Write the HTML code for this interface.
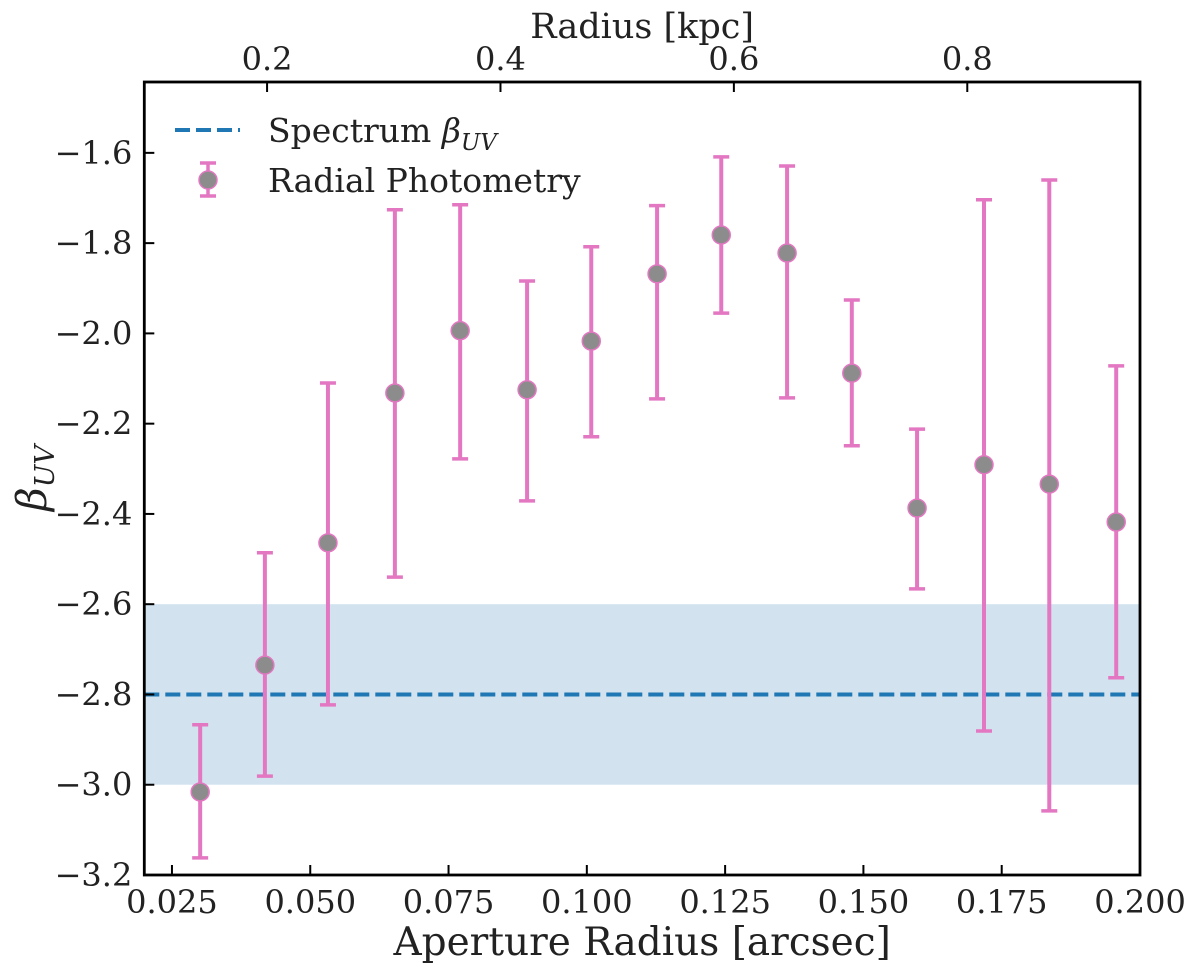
<!DOCTYPE html>
<html><head><meta charset="utf-8"><style>
html,body{margin:0;padding:0;background:#fff;}
svg text{font-family:"DejaVu Serif","Liberation Serif",serif;fill:#222;}
</style></head><body>
<svg id="chart" width="1200" height="973" xmlns="http://www.w3.org/2000/svg"></svg>
<script>
const xVals=[0.0301,0.0418,0.0532,0.0653,0.0771,0.0892,0.1008,0.1127,0.1243,0.1362,0.1479,0.1597,0.1718,0.1836,0.1957];
const yVals=[-3.016,-2.735,-2.464,-2.132,-1.994,-2.125,-2.017,-1.868,-1.782,-1.822,-2.088,-2.387,-2.291,-2.334,-2.418];
const yHi=[-2.867,-2.486,-2.110,-1.726,-1.715,-1.884,-1.808,-1.717,-1.609,-1.629,-1.926,-2.212,-1.704,-1.660,-2.072];
const yLo=[-3.162,-2.981,-2.823,-2.540,-2.278,-2.371,-2.229,-2.145,-1.955,-2.143,-2.249,-2.566,-2.881,-3.058,-2.763];
const xTicks=[0.025,0.05,0.075,0.1,0.125,0.15,0.175,0.2];
const xTickLabels=["0.025","0.050","0.075","0.100","0.125","0.150","0.175","0.200"];
const yTicks=[-3.2,-3.0,-2.8,-2.6,-2.4,-2.2,-2.0,-1.8,-1.6];
const topTicks=[0.2,0.4,0.6,0.8];
const spectrumBeta=-2.8, bandLo=-3.0, bandHi=-2.6;
const kpcPerArcsec=4.74;

const L=144.3,R=1140,T=82,B=875;
const X0=0.02,X1=0.2,Y0=-3.2,Y1=-1.443;
const sx=v=>L+(v-X0)/(X1-X0)*(R-L);
const sy=v=>B-(v-Y0)/(Y1-Y0)*(B-T);
const svg=document.getElementById('chart');
const NS='http://www.w3.org/2000/svg';
function mk(tag,attrs,parent){const e=document.createElementNS(NS,tag);for(const k in attrs)e.setAttribute(k,attrs[k]);(parent||svg).appendChild(e);return e;}

let e=mk('rect',{x:L,y:sy(bandHi),width:R-L,height:sy(bandLo)-sy(bandHi),fill:'#d2e3ef'});


e=mk('line',{x1:L,x2:R,y1:sy(spectrumBeta),y2:sy(spectrumBeta),stroke:'#1f77b4','stroke-width':4,'stroke-dasharray':'15,6'});



for(let i=0;i<xVals.length;i++){
  const g=mk('g',{});
  
  
  const x=sx(xVals[i]);
  mk('line',{x1:x,x2:x,y1:sy(yHi[i]),y2:sy(yLo[i]),stroke:'#e377c2','stroke-width':4},g);
  mk('line',{x1:x-8,x2:x+8,y1:sy(yHi[i]),y2:sy(yHi[i]),stroke:'#e377c2','stroke-width':3.5},g);
  mk('line',{x1:x-8,x2:x+8,y1:sy(yLo[i]),y2:sy(yLo[i]),stroke:'#e377c2','stroke-width':3.5},g);
  mk('circle',{cx:x,cy:sy(yVals[i]),r:9,fill:'#8c8c8c',stroke:'#e377c2','stroke-width':1.5},g);
}

e=mk('rect',{x:L,y:T,width:R-L,height:B-T,fill:'none',stroke:'#000','stroke-width':2.8});



xTicks.forEach((v,i)=>{const x=sx(v);
  mk('line',{x1:x,x2:x,y1:B,y2:B-10,stroke:'#000','stroke-width':2});
  const t=mk('text',{x:x,y:B+38,'text-anchor':'middle','font-size':32});t.textContent=xTickLabels[i];
  
  
});
yTicks.forEach(v=>{const y=sy(v);
  mk('line',{x1:L,x2:L+10,y1:y,y2:y,stroke:'#000','stroke-width':2});
  const t=mk('text',{x:L-12,y:y+11,'text-anchor':'end','font-size':32});t.textContent='\u2212'+Math.abs(v).toFixed(1);
  
  
});
topTicks.forEach(v=>{const x=sx(v/kpcPerArcsec);
  mk('line',{x1:x,x2:x,y1:T,y2:T+10,stroke:'#000','stroke-width':2});
  const t=mk('text',{x:x,y:T-12,'text-anchor':'middle','font-size':32});t.textContent=v.toFixed(1);
  
  
});

e=mk('text',{x:(L+R)/2,y:955,'text-anchor':'middle','font-size':39});e.textContent='Aperture Radius [arcsec]';


e=mk('text',{x:(L+R)/2,y:38,'text-anchor':'middle','font-size':35});e.textContent='Radius [kpc]';


e=mk('text',{x:0,y:0,'text-anchor':'middle','font-size':41,'font-style':'italic',transform:'translate(46,478) rotate(-90)'});
e.innerHTML='β<tspan font-size="27" dy="8">UV</tspan>';



const lg=mk('g',{});


mk('line',{x1:175,x2:240,y1:130,y2:130,stroke:'#1f77b4','stroke-width':4,'stroke-dasharray':'15,6'},lg);
e=mk('text',{x:268,y:142,'font-size':33},lg);e.innerHTML='Spectrum <tspan font-style="italic">β</tspan><tspan font-style="italic" font-size="23" dy="8">UV</tspan>';
mk('line',{x1:208,x2:208,y1:163,y2:196,stroke:'#e377c2','stroke-width':3.5},lg);
mk('line',{x1:200,x2:216,y1:163,y2:163,stroke:'#e377c2','stroke-width':3.5},lg);
mk('line',{x1:200,x2:216,y1:196,y2:196,stroke:'#e377c2','stroke-width':3.5},lg);
mk('circle',{cx:208,cy:180,r:9,fill:'#8c8c8c',stroke:'#e377c2','stroke-width':1.5},lg);
e=mk('text',{x:268,y:192,'font-size':33},lg);e.textContent='Radial Photometry';
</script>
</body></html>
